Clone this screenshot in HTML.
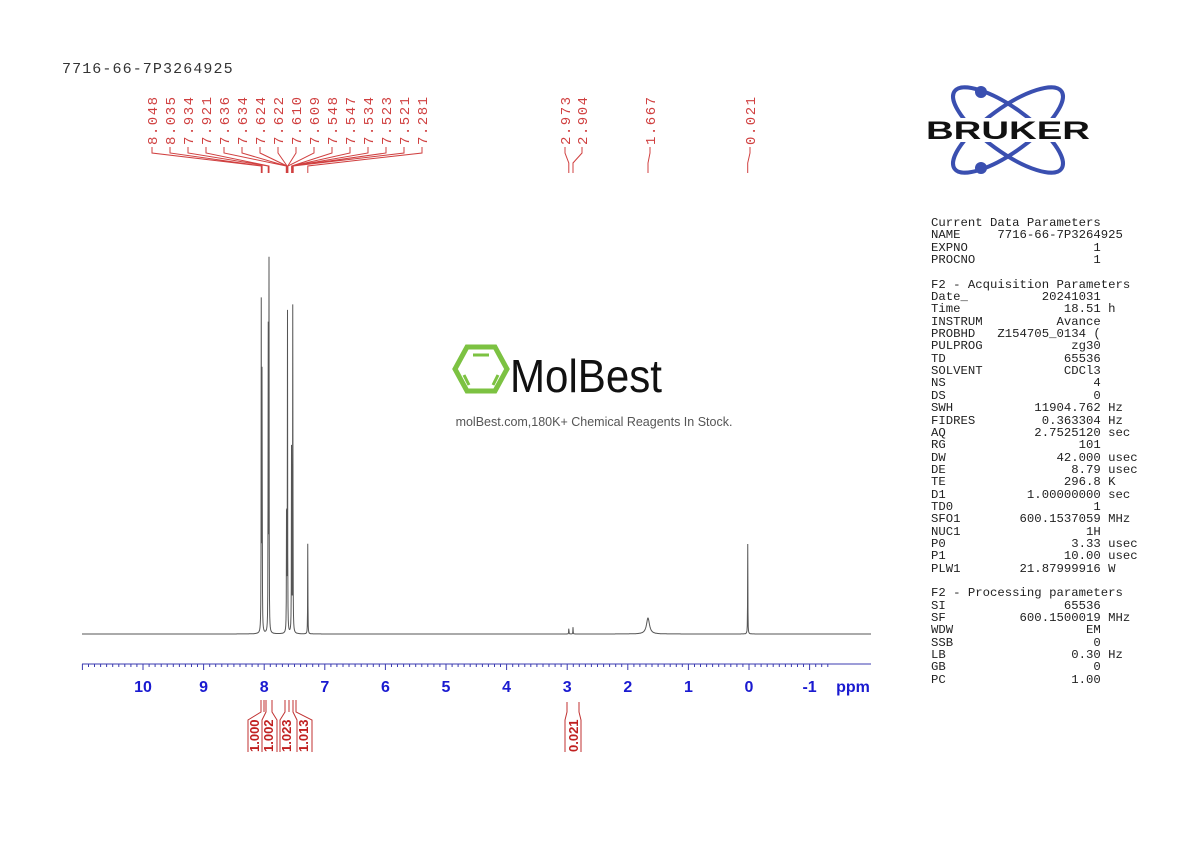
<!DOCTYPE html>
<html><head><meta charset="utf-8"><style>
body{margin:0;background:#fff;width:1190px;height:842px;overflow:hidden;position:relative;font-family:"Liberation Sans",sans-serif}
pre{position:absolute;left:931px;top:217px;margin:0;font-family:"Liberation Mono",monospace;font-size:12.3px;line-height:12.35px;color:#222}
</style></head><body>
<svg id="s" width="1190" height="842" style="position:absolute;left:0;top:0">
<text x="62" y="73" font-family="Liberation Mono,monospace" font-size="15" letter-spacing="1.1" fill="#333">7716-66-7P3264925</text>
<g id="ax" stroke="#3b3bb0" stroke-width="1" fill="none"></g>
<g id="lab" fill="#1a1ad0" font-weight="bold" font-size="16" text-anchor="middle"></g>
<text x="853" y="692" fill="#1a1ad0" font-weight="bold" font-size="16" text-anchor="middle">ppm</text>
<g id="pk" fill="#d04040" font-family="Liberation Mono,monospace" font-size="14" letter-spacing="1.5"></g>
<g id="pl" stroke="#d04040" stroke-width="1" fill="none"></g>
<path id="sp" stroke="#555" stroke-width="1" fill="none"></path>
<g stroke="#c03030" stroke-width="1" fill="none">
<path d="M261 700 V712 L248 720 V752 M264 700 V712 M266 700 V712 L262 720 V752 M272 700 V712 L277 720 V752 M285 700 V712 L280 720 V752 M289 700 V712 M293 700 V712 L297 720 V752 M296 700 V712 L312 720 V752"/>
<path d="M567 702 V712 L565 720 V752 M579 702 V712 L581 720 V752"/>
</g>
<g fill="#c02020" font-weight="bold" font-size="13">
<text transform="translate(259,752) rotate(-90)">1.000</text>
<text transform="translate(273,752) rotate(-90)">1.002</text>
<text transform="translate(291,752) rotate(-90)">1.023</text>
<text transform="translate(308,752) rotate(-90)">1.013</text>
<text transform="translate(578,752) rotate(-90)">0.021</text>
</g>
<g transform="translate(455,345)">
<polygon points="12,2 40,2 52,24 40,46 12,46 0,24" fill="none" stroke="#7cc242" stroke-width="5"/>
<path d="M18,10 H34 M9,30 L14,40 M43,30 L38,40" stroke="#7cc242" stroke-width="3"/>
</g>
<text x="510" y="392" font-size="46" fill="#111" font-family="Liberation Sans Narrow,Liberation Sans,sans-serif" textLength="152" lengthAdjust="spacingAndGlyphs">MolBest</text>
<text x="594" y="426" font-size="12.5" fill="#555" text-anchor="middle">molBest.com,180K+ Chemical Reagents In Stock.</text>
<g stroke="#3a4fb0" stroke-width="4" fill="none">
<ellipse cx="1008" cy="130" rx="66" ry="22" transform="rotate(36 1008 130)"/>
<ellipse cx="1008" cy="130" rx="66" ry="22" transform="rotate(-36 1008 130)"/>
</g>
<circle cx="981" cy="92" r="6" fill="#3a4fb0"/><circle cx="981" cy="168" r="6" fill="#3a4fb0"/>
<rect x="925" y="118" width="166" height="24" fill="#fff"/>
<text x="1008" y="139" font-size="25" font-weight="bold" fill="#111" text-anchor="middle" textLength="164" lengthAdjust="spacingAndGlyphs">BRUKER</text>
</svg>
<pre>Current Data Parameters
NAME     7716-66-7P3264925
EXPNO                 1
PROCNO                1

F2 - Acquisition Parameters
Date_          20241031
Time              18.51 h
INSTRUM          Avance
PROBHD   Z154705_0134 (
PULPROG            zg30
TD                65536
SOLVENT           CDCl3
NS                    4
DS                    0
SWH           11904.762 Hz
FIDRES         0.363304 Hz
AQ            2.7525120 sec
RG                  101
DW               42.000 usec
DE                 8.79 usec
TE                296.8 K
D1           1.00000000 sec
TD0                   1
SFO1        600.1537059 MHz
NUC1                 1H
P0                 3.33 usec
P1                10.00 usec
PLW1        21.87999916 W

F2 - Processing parameters
SI                65536
SF          600.1500019 MHz
WDW                  EM
SSB                   0
LB                 0.30 Hz
GB                    0
PC                 1.00</pre>
<script>
const NS="http://www.w3.org/2000/svg";
function el(p,t,a,txt){const e=document.createElementNS(NS,t);for(const k in a)e.setAttribute(k,a[k]);if(txt)e.textContent=txt;document.getElementById(p).appendChild(e);return e;}
const X=p=>749-60.6*p;
let d="M82 664 H871";
for(let i=-13;i<=110;i++){const x=X(i/10);if(x<82||x>871)continue;d+=` M${x.toFixed(1)} 664 V${i%10==0?670:667}`;}
el("ax","path",{d});
for(let p=-1;p<=10;p++)el("lab","text",{x:X(p),y:692},String(p));
const labs=["8.048","8.035","7.934","7.921","7.636","7.634","7.624","7.622","7.610","7.609","7.548","7.547","7.534","7.523","7.521","7.281"];
let pd="";
labs.forEach((t,i)=>{const x=152+i*18;el("pk","text",{transform:`translate(${x+5},145) rotate(-90)`},t);const px=X(parseFloat(t));pd+=`M${x} 147 V153 L${px.toFixed(1)} 166 V173 `;});
[["2.973",565,X(2.973)],["2.904",582,X(2.904)],["1.667",650,X(1.667)],["0.021",750,X(0.021)]].forEach(([t,x,px])=>{el("pk","text",{transform:`translate(${x+5},145) rotate(-90)`},t);pd+=`M${x} 147 V153 L${px.toFixed(1)} 163 V173 `;});
el("pl","path",{d:pd});
const peaks=[[8.048,350],[8.035,320],[7.934,330],[7.921,368],[7.630,190],[7.616,330],[7.548,250],[7.528,365],[7.281,92],[2.973,7],[2.904,7],[0.021,92]];
let s="";const base=634;
for(let x=82;x<=871;x+=0.25){const p=(749-x)/60.6;let y=0;
for(const [c,h] of peaks){const dx=(p-c)/0.0025;y+=h/(1+dx*dx);}
const b=(p-1.667)/0.03;y+=16/(1+b*b);
s+=(s?"L":"M")+x.toFixed(2)+" "+(base-y).toFixed(1);}
document.getElementById("sp").setAttribute("d",s);
</script>
</body></html>
